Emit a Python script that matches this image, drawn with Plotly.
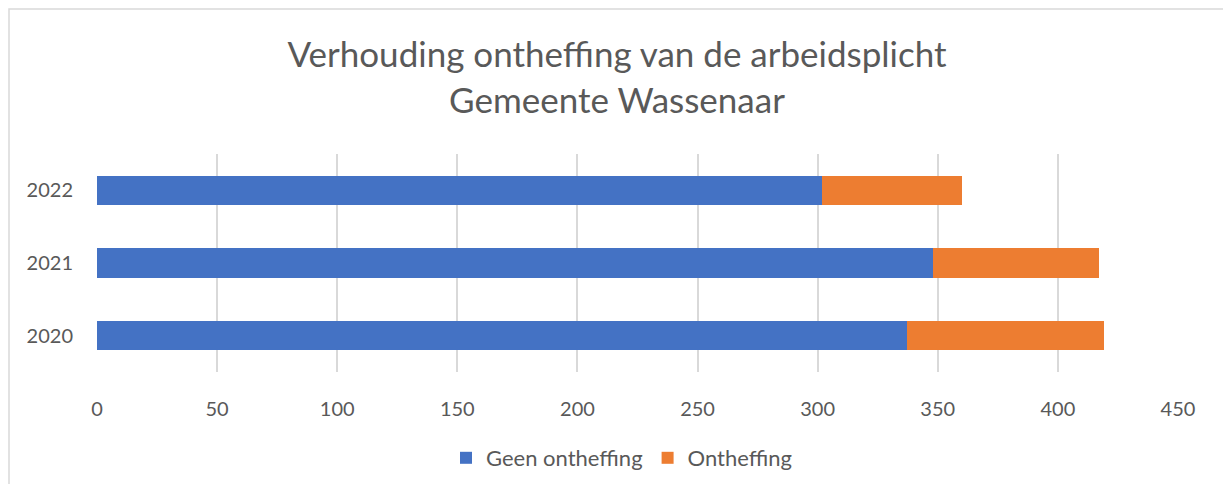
import plotly.graph_objects as go

years = ["2020", "2021", "2022"]
geen_ontheffing = [337, 348, 302]
ontheffing = [82, 69, 58]
x_ticks = [0, 50, 100, 150, 200, 250, 300, 350, 400, 450]

W, H = 1223, 484
ml, mr, mt, mb = 97, 45, 154, 112
pw, ph = W - ml - mr, H - mt - mb

def px2x(px):
    return (px - ml) / pw

def py2y(py):
    return (H - mb - py) / ph

font_fam = "Lato, 'Open Sans', sans-serif"
grey = "#595959"

fig = go.Figure()
fig.add_trace(go.Bar(y=years, x=geen_ontheffing, orientation="h", name="Geen ontheffing",
                     marker=dict(color="#4472C4", line=dict(width=0))))
fig.add_trace(go.Bar(y=years, x=ontheffing, orientation="h", name="Ontheffing",
                     marker=dict(color="#ED7D31", line=dict(width=0))))

fig.update_layout(
    width=W, height=H,
    barmode="stack", bargap=0.6,
    paper_bgcolor="white", plot_bgcolor="white",
    margin=dict(l=ml, r=mr, t=mt, b=mb, autoexpand=False),
    font=dict(family=font_fam, color=grey, size=20),
    title=dict(text="Verhouding ontheffing van de arbeidsplicht<br>Gemeente Wassenaar",
               x=617 / W, xref="container", xanchor="center",
               y=1 - 67 / H, yref="container", yanchor="middle",
               font=dict(size=35, color=grey, family=font_fam)),
    xaxis=dict(range=[0, 450], tickvals=x_ticks, showgrid=True, gridcolor="#d9d9d9",
               gridwidth=1.5, zeroline=False, showline=False, ticks="",
               ticklabelstandoff=23, tickangle=0, automargin=False,
               tickfont=dict(size=20, color=grey)),
    yaxis=dict(showgrid=False, zeroline=False, showline=False, ticks="",
               categoryorder="array", categoryarray=years,
               ticklabelstandoff=23, automargin=False,
               tickfont=dict(size=20, color=grey)),
    legend=dict(orientation="h", x=px2x(622), xref="paper", xanchor="center",
                y=py2y(458), yanchor="middle",
                font=dict(size=22, color=grey), traceorder="normal"),
    shapes=[dict(type="rect", xref="paper", yref="paper",
                 x0=px2x(9), x1=px2x(1240), y0=py2y(500), y1=py2y(9),
                 line=dict(color="#d9d9d9", width=1.5), layer="below")],
)

fig.write_html("out.html", config={"displayModeBar": False},
               post_script="document.body.style.margin='0px';")
